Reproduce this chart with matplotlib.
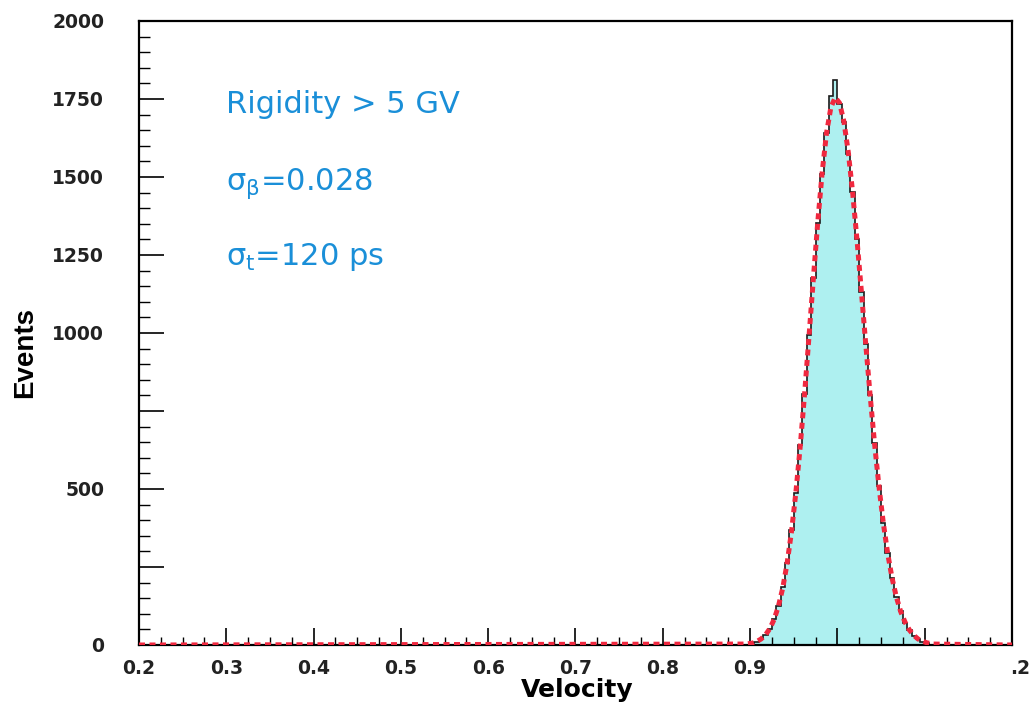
import matplotlib
matplotlib.use("Agg")
import matplotlib.pyplot as plt
import matplotlib.transforms as mtransforms
import numpy as np

# ---- data ----
bin_edges_start = 0.2
bin_width = 0.005
n_bins = 200
# counts for bins starting at 0.900 ... 1.100 (step 0.005)
peak_bins_start = 0.900
peak_counts = [6, 11, 19, 33, 52, 84, 126, 186, 262, 368, 488, 641, 805, 992, 1175,
               1352, 1510, 1640, 1760, 1811, 1734, 1677, 1575, 1452, 1300, 1130, 965,
               800, 648, 510, 392, 296, 214, 153, 108, 72, 48, 30, 18, 10, 5]

# fitted curve (red dashed), values read at bin centres
fit_x = [0.2, 0.895, 0.9025, 0.9075, 0.9125, 0.9175, 0.9225, 0.9275, 0.9325, 0.9375, 0.9425,
         0.9475, 0.9525, 0.9575, 0.9625, 0.9675, 0.9725, 0.9775, 0.9825, 0.9875,
         0.9925, 0.9975, 1.0025, 1.0075, 1.0125, 1.0175, 1.0225, 1.0275, 1.0325,
         1.0375, 1.0425, 1.0475, 1.0525, 1.0575, 1.0625, 1.0675, 1.0725, 1.0775,
         1.0825, 1.0875, 1.0925, 1.0975, 1.1025, 1.11, 1.2]
fit_y = [0, 3, 6, 11, 19, 32, 52, 82, 125, 184, 264, 365, 491, 639, 808, 990, 1176,
         1355, 1513, 1640, 1723, 1755, 1737, 1677, 1579, 1449, 1297, 1132, 963, 800,
         647, 511, 393, 295, 216, 154, 107, 73, 48, 31, 19, 12, 7, 3, 0]

x_ticks = [0.2, 0.3, 0.4, 0.5, 0.6, 0.7, 0.8, 0.9, 1.0, 1.1, 1.2]
x_ticklabels = ["0.2", "0.3", "0.4", "0.5", "0.6", "0.7", "0.8", "0.9", "", "", ".2"]
y_ticks = [0, 250, 500, 750, 1000, 1250, 1500, 1750, 2000]
y_ticklabels = ["0", "", "500", "", "1000", "1250", "1500", "1750", "2000"]

text_lines = ["Rigidity > 5 GV", r"σ$_{\mathregular{β}}$=0.028", r"σ$_{\mathregular{t}}$=120 ps"]

# ---- build histogram arrays ----
edges = bin_edges_start + bin_width * np.arange(n_bins + 1)
counts = np.zeros(n_bins)
i0 = int(round((peak_bins_start - bin_edges_start) / bin_width))
counts[i0:i0 + len(peak_counts)] = peak_counts

plt.rcParams['font.family'] = ['DejaVu Sans']
plt.rcParams['mathtext.fontset'] = 'dejavusans'

fig = plt.figure(figsize=(10.36, 7.09), dpi=100)
ax = fig.add_axes([139 / 1036, 1 - 645 / 709, (1012 - 139) / 1036, (645 - 21) / 709])

ax.stairs(counts, edges, fill=True, color='#aef0f0', zorder=1)
ax.stairs(counts, edges, color='#1a1a1a', linewidth=1.2, zorder=2)
ax.plot(fit_x, fit_y, color='#f0283f', linewidth=3.6, dashes=(1.2, 0.9), zorder=3)

ax.set_xlim(0.2, 1.2)
ax.set_ylim(0, 2000)
ax.set_xticks(x_ticks)
ax.set_xticklabels(x_ticklabels)
ax.set_yticks(y_ticks)
ax.set_yticklabels(y_ticklabels)
ax.set_xticks(np.arange(0.2, 1.2001, 0.025), minor=True)
ax.set_yticks(np.arange(0, 2001, 50), minor=True)

ax.tick_params(axis='x', which='major', direction='in', length=12, width=1.2,
               labelsize=13.5, pad=10)
ax.tick_params(axis='x', which='minor', direction='in', length=6, width=1.0)
ax.tick_params(axis='y', which='major', direction='in', length=18, width=1.2,
               labelsize=13.5, pad=25)
ax.tick_params(axis='y', which='minor', direction='in', length=8, width=1.0)
for lab in ax.get_xticklabels() + ax.get_yticklabels():
    lab.set_fontweight('bold')
    lab.set_color('#222222')
# shift the ".2" label to the right like in the reference
lbl = ax.get_xticklabels()[-1]
lbl.set_transform(lbl.get_transform() + mtransforms.ScaledTranslation(8 / 100, 0, fig.dpi_scale_trans))

for s in ax.spines.values():
    s.set_linewidth(1.6)
    s.set_color('black')

ax.set_xlabel("Velocity", fontsize=18, fontweight='bold')
ax.set_ylabel("Events", fontsize=20, fontweight='bold',
              family=['Liberation Sans', 'DejaVu Sans'])
ax.xaxis.set_label_coords((577 - 139) / 873, -(678 - 645) / 624, transform=ax.transAxes)
ax.yaxis.set_label_coords(-(139 - 38) / 873, (645 - 352) / 624, transform=ax.transAxes)

blue = '#1a8fd8'
ax.text(0.0995, 1 - (113 - 21) / 624, text_lines[0], transform=ax.transAxes,
        color=blue, fontsize=22, va='baseline', ha='left')
ax.text(0.0995, 1 - (190 - 21) / 624, text_lines[1], transform=ax.transAxes,
        color=blue, fontsize=22, va='baseline', ha='left')
ax.text(0.0995, 1 - (265 - 21) / 624, text_lines[2], transform=ax.transAxes,
        color=blue, fontsize=22, va='baseline', ha='left')

fig.savefig("out.png", dpi=100)
